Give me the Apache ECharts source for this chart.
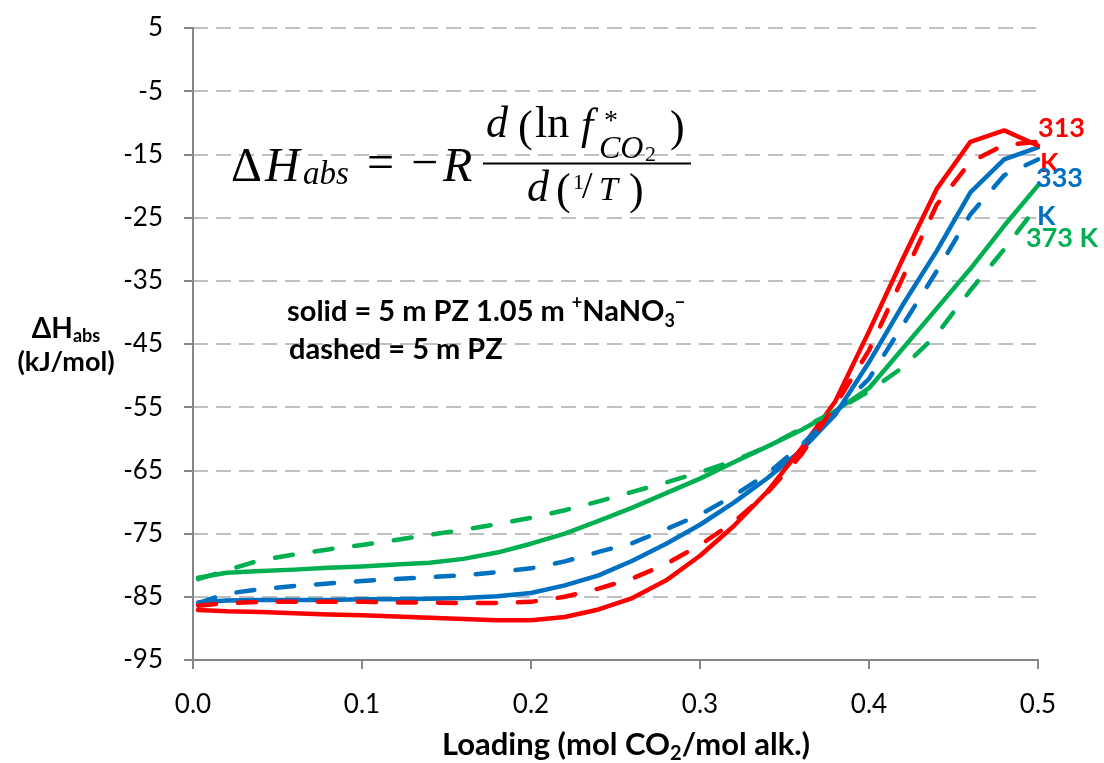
<!DOCTYPE html>
<html>
<head>
<meta charset="utf-8">
<script src="https://cdn.jsdelivr.net/npm/echarts@6/dist/echarts.min.js"></script>
<style>
html,body{margin:0;padding:0;background:#fff;}
#c{width:1104px;height:763px;}
</style>
</head>
<body>
<div id="c"></div>
<script>
const loading = [0.003,0.02,0.04,0.06,0.08,0.10,0.12,0.14,0.16,0.18,0.20,0.22,0.24,0.26,0.28,0.30,0.32,0.34,0.36,0.38,0.40,0.42,0.44,0.46,0.48,0.50];

// solid = 5 m PZ 1.05 m NaNO3
const solid313 = [-87.1,-87.3,-87.4,-87.6,-87.8,-87.9,-88.1,-88.3,-88.5,-88.7,-88.7,-88.2,-87.0,-85.2,-82.4,-78.5,-73.8,-68.3,-61.5,-54.1,-43.0,-31.5,-20.5,-13.0,-11.2,-13.6];
const solid333 = [-85.9,-85.6,-85.5,-85.5,-85.5,-85.4,-85.4,-85.3,-85.2,-84.9,-84.4,-83.2,-81.6,-79.3,-76.6,-73.6,-70.1,-66.2,-61.8,-56.2,-47.9,-38.8,-30.3,-21.0,-15.8,-13.9];
const solid373 = [-82.0,-81.2,-80.9,-80.7,-80.4,-80.2,-79.9,-79.6,-79.0,-78.0,-76.6,-75.0,-73.0,-70.9,-68.6,-66.3,-63.7,-61.2,-58.6,-55.6,-52.0,-45.7,-39.4,-33.1,-26.3,-19.9];
// dashed = 5 m PZ
const dashed313 = [-86.4,-86.0,-85.8,-85.8,-85.8,-85.8,-85.9,-85.9,-86.0,-86.0,-85.8,-85.0,-83.7,-82.1,-79.8,-76.8,-73.2,-68.5,-62.5,-54.7,-46.0,-34.5,-23.0,-16.2,-13.5,-13.0];
const dashed333 = [-86.0,-84.5,-83.8,-83.3,-82.9,-82.5,-82.2,-81.9,-81.6,-81.1,-80.5,-79.4,-77.9,-76.5,-74.3,-72.0,-69.0,-65.5,-61.0,-55.8,-50.5,-42.0,-33.5,-24.5,-18.3,-15.8];
const dashed373 = [-82.2,-80.8,-79.2,-78.3,-77.5,-76.8,-76.0,-75.2,-74.4,-73.5,-72.5,-71.3,-69.9,-68.4,-66.9,-65.3,-63.5,-61.2,-58.4,-55.6,-52.5,-48.7,-43.5,-36.5,-30.0,-23.0];

const tempLabels = ['313 K','333 K','373 K'];
const colors = ['#FF0000','#0070C0','#00B050'];

const pairs = a => loading.map((x,i)=>[x,a[i]]);
const SANS = 'Lato, "Open Sans", sans-serif';
const SERIF = '"Liberation Serif", "DejaVu Serif", serif';

function lineSeries(name, data, color, dashed){
  return {
    name, type:'line', data:pairs(data), symbol:'none', smooth:false,
    lineStyle:{color, width:4.5, type: dashed ? [18,22] : 'solid', cap:'round', join:'round'},
    z: dashed ? 3 : 2
  };
}

function t(x, y, text, font, fill, align){
  return {type:'text', x, y, z:10, style:{
    text, fill: fill||'#000', font, align: align||'left', verticalAlign:'middle'
  }};
}
const serif = (size, italic) => (italic ? 'italic ' : '') + size + 'px ' + SERIF;
const bold = size => 'bold ' + size + 'px ' + SANS;

const chart = echarts.init(document.getElementById('c'), null, {renderer:'canvas'});
const option = {
  animation:false,
  backgroundColor:'#fff',
  grid:{left:193, right:66, top:28, bottom:103, containLabel:false},
  xAxis:{
    type:'value', min:0, max:0.5, interval:0.1,
    axisLine:{onZero:false, lineStyle:{color:'#868686', width:2}},
    axisTick:{show:true, length:9, inside:false, lineStyle:{color:'#868686', width:2}},
    splitLine:{show:false},
    axisLabel:{margin:32, fontSize:26, fontFamily:SANS, color:'#000', formatter:v=>v.toFixed(1)}
  },
  yAxis:{
    type:'value', min:-95, max:5, interval:10,
    axisLine:{show:true, lineStyle:{color:'#868686', width:2}},
    axisTick:{show:true, length:9, lineStyle:{color:'#868686', width:2}},
    splitLine:{show:true, lineStyle:{color:'#BFBFBF', width:2, type:[15,8]}},
    axisLabel:{margin:30, fontSize:26, fontFamily:SANS, color:'#000'}
  },
  series:[
    lineSeries('solid '+tempLabels[2], solid373, colors[2], false),
    lineSeries('solid '+tempLabels[1], solid333, colors[1], false),
    lineSeries('solid '+tempLabels[0], solid313, colors[0], false),
    lineSeries('dashed '+tempLabels[2], dashed373, colors[2], true),
    lineSeries('dashed '+tempLabels[1], dashed333, colors[1], true),
    lineSeries('dashed '+tempLabels[0], dashed313, colors[0], true)
  ],
  graphic:[
    // x axis title
    {type:'text', x:626, y:745, z:10, style:{
      text:'{a|Loading (mol CO}{s|2}{a|/mol alk.)}', align:'center', verticalAlign:'middle',
      rich:{a:{font:bold(31), fill:'#000', lineHeight:38},
            s:{font:bold(20), fill:'#000', verticalAlign:'bottom', lineHeight:26}}
    }},
    // y axis title
    {type:'text', x:66, y:329, z:10, style:{
      text:'{a|ΔH}{s|abs}', align:'center', verticalAlign:'middle',
      rich:{a:{font:bold(28), fill:'#000', lineHeight:32},
            s:{font:bold(18), fill:'#000', verticalAlign:'bottom', lineHeight:22}}
    }},
    t(66, 362, '(kJ/mol)', bold(27), '#000', 'center'),
    // temperature labels
    t(1038, 128, '313', bold(27), colors[0]),
    t(1040, 163, 'K', bold(27), colors[0]),
    t(1036, 178, '333', bold(27), colors[1]),
    t(1037, 216, 'K', bold(27), colors[1]),
    t(1026, 238, '373 K', bold(27), colors[2]),
    // annotation
    {type:'text', x:287, y:312, z:10, style:{
      text:'{n|solid = 5 m PZ 1.05 m }{p|+}{n|NaNO}{b|3}{p|−}', align:'left', verticalAlign:'middle',
      rich:{n:{font:bold(29), fill:'#000', lineHeight:36},
            p:{font:bold(18), fill:'#000', verticalAlign:'top', lineHeight:22},
            b:{font:bold(18), fill:'#000', verticalAlign:'bottom', lineHeight:22}}
    }},
    t(289, 350, 'dashed = 5 m PZ', bold(29)),
    // equation
    t(231, 168, 'Δ', serif(48)),
    t(265, 168, 'H', serif(48, true)),
    t(303, 175, 'abs', serif(33, true)),
    t(367, 165, '=', serif(48)),
    t(411, 165, '−', serif(48)),
    t(443, 168, 'R', serif(48, true)),
    {type:'rect', z:10, shape:{x:483, y:162.5, width:208, height:2}, style:{fill:'#000'}},
    t(486, 125, 'd', serif(44, true)),
    t(518, 129, '(', serif(44)),
    t(535, 125, 'ln', serif(44)),
    t(581, 127, 'f', serif(44, true)),
    t(604, 122, '*', serif(28)),
    t(599, 150, 'CO', serif(32, true)),
    t(645, 155, '2', serif(22)),
    t(670, 129, ')', serif(44)),
    t(527, 189, 'd', serif(44, true)),
    t(556, 192, '(', serif(44)),
    t(573, 183, '1', serif(22)),
    t(582, 188, '/', serif(38)),
    t(599, 191, 'T', serif(34, true)),
    t(629, 192, ')', serif(44))
  ]
};
chart.setOption(option);
</script>
</body>
</html>
